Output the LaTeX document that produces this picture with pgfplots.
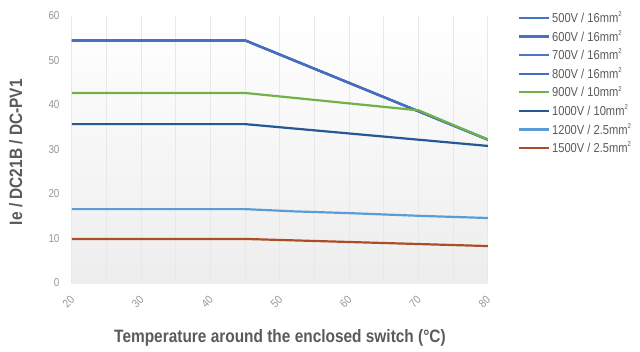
\documentclass[border=0pt]{standalone}
\usepackage{fontspec}
\setmainfont{Liberation Sans}[FakeStretch=0.86]
\usepackage{pgfplots}
\pgfplotsset{compat=1.18}
\definecolor{cA}{RGB}{68,114,196}
\definecolor{cB}{RGB}{72,112,190}
\definecolor{cC}{RGB}{76,116,200}
\definecolor{cD}{RGB}{70,110,192}
\definecolor{cG}{RGB}{112,178,72}
\definecolor{cDK}{RGB}{38,88,148}
\definecolor{cLB}{RGB}{92,156,214}
\definecolor{cBR}{RGB}{172,76,40}
\definecolor{txt}{RGB}{90,90,90}
\definecolor{tick}{RGB}{150,150,150}
\newcommand{\sq}{\raisebox{0.45em}{\fontsize{7}{7}\selectfont 2}}
\begin{document}
\begin{tikzpicture}
\useasboundingbox (-72bp,-69bp) rectangle (568bp,283bp);
\begin{axis}[
  at={(0,0)}, anchor=south west,
  scale only axis, width=416bp, height=267bp,
  xmin=20, xmax=80, ymin=0, ymax=60,
  xtick={20,30,...,80}, ytick={0,10,...,60},
  minor xtick={25,35,...,75},
  xmajorgrids, xminorgrids,
  major grid style={draw=black!9, line width=1bp},
  minor grid style={draw=black!9, line width=1bp},
  axis line style={draw=none},
  tick style={draw=none},
  axis background/.style={shade, top color=white, bottom color=black!7},
  /pgf/number format/assume math mode=true,
  ticklabel style={font=\fontsize{11.5}{12}\selectfont, text=tick},
  xticklabel style={rotate=45, anchor=center, xshift=-16bp, yshift=-11bp},
  yticklabel style={xshift=-9bp},
  xlabel={Temperature around the enclosed switch (\textdegree C)},
  ylabel={Ie / DC21B / DC-PV1},
  label style={font=\fontsize{18}{20}\selectfont\bfseries, text=txt},
  xlabel style={at={(axis description cs:0.5,-0.206)}, anchor=center},
  ylabel style={at={(axis description cs:-0.135,0.49)}, anchor=center, rotate=0},
  legend style={at={(axis description cs:1.071,1.022)}, anchor=north west,
    draw=none, fill=none, font=\fontsize{13}{14}\selectfont, text=txt,
    row sep=3.4bp, inner sep=0pt, nodes={inner ysep=1.5bp}},
  legend cell align=left,
  legend image code/.code={\draw[#1, line width=2.4bp] (0bp,0bp) -- (30bp,0bp);},
  every axis plot/.append style={line width=2.2bp},
]
\addplot[cA] coordinates {(20,54.5) (45,54.5) (80,32.2)};
\addlegendentry{500V / 16mm\sq}
\addplot[cB] coordinates {(20,54.5) (45,54.5) (80,32.2)};
\addlegendentry{600V / 16mm\sq}
\addplot[cC] coordinates {(20,54.5) (45,54.5) (80,32.2)};
\addlegendentry{700V / 16mm\sq}
\addplot[cD] coordinates {(20,54.5) (45,54.5) (80,32.2)};
\addlegendentry{800V / 16mm\sq}
\addplot[cG] coordinates {(20,42.7) (45,42.7) (70,38.8) (80,32.2)};
\addlegendentry{900V / 10mm\sq}
\addplot[cDK] coordinates {(20,35.7) (45,35.7) (80,30.8)};
\addlegendentry{1000V / 10mm\sq}
\addplot[cLB] coordinates {(20,16.6) (45,16.6) (52,16.1) (60,15.7) (70,15.1) (80,14.6)};
\addlegendentry{1200V / 2.5mm\sq}
\addplot[cBR] coordinates {(20,9.9) (45,9.9) (80,8.3)};
\addlegendentry{1500V / 2.5mm\sq}
\end{axis}
\end{tikzpicture}
\end{document}
